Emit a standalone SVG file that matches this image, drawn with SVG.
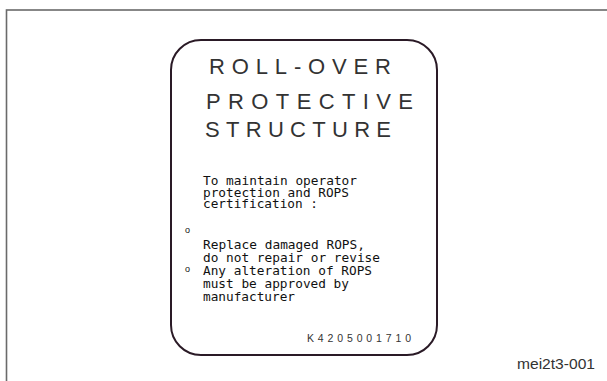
<svg xmlns="http://www.w3.org/2000/svg" width="607" height="381" viewBox="0 0 607 381">
<style>
.frame{fill:none;stroke:#6a6a6a;stroke-width:1.6}
.label{fill:#fff;stroke:#2a1a26;stroke-width:2}
.title{font-family:"Liberation Sans",Arial,sans-serif;font-size:22px;fill:#333}
.body{font-family:"DejaVu Sans Mono","Liberation Mono",monospace;font-size:12.8px;fill:#111}
.bullet{font-family:"Liberation Sans",Arial,sans-serif;font-size:9px;fill:#111}
.code{font-family:"Liberation Sans",Arial,sans-serif;font-size:10.5px;fill:#333}
.ref{font-family:"Liberation Sans",Arial,sans-serif;font-size:14.5px;fill:#333}
</style>
<rect width="607" height="381" fill="#fff"/>
<g id="frame">
<rect class="frame" x="6.5" y="10" width="610" height="380"/>
</g>
<g id="rops-label">
<rect class="label" x="171" y="40" width="266" height="315" rx="30" ry="30"/>
<text class="title" x="209" y="74" textLength="182" lengthAdjust="spacing">ROLL-OVER</text>
<text class="title" x="206" y="109" textLength="207" lengthAdjust="spacing">PROTECTIVE</text>
<text class="title" x="205" y="137" textLength="186" lengthAdjust="spacing">STRUCTURE</text>
<text class="body" x="203" y="185" textLength="154" lengthAdjust="spacingAndGlyphs">To maintain operator</text>
<text class="body" x="203" y="196.5" textLength="146" lengthAdjust="spacingAndGlyphs">protection and ROPS</text>
<text class="body" x="203" y="208" textLength="115" lengthAdjust="spacingAndGlyphs">certification :</text>
<text class="bullet" x="185" y="233">o</text>
<text class="body" x="203" y="249" textLength="162" lengthAdjust="spacingAndGlyphs">Replace damaged ROPS,</text>
<text class="body" x="203" y="262" textLength="177" lengthAdjust="spacingAndGlyphs">do not repair or revise</text>
<text class="bullet" x="185" y="272">o</text>
<text class="body" x="203" y="275" textLength="169" lengthAdjust="spacingAndGlyphs">Any alteration of ROPS</text>
<text class="body" x="203" y="288" textLength="146" lengthAdjust="spacingAndGlyphs">must be approved by</text>
<text class="body" x="203" y="301" textLength="92" lengthAdjust="spacingAndGlyphs">manufacturer</text>
<text class="code" x="307" y="342" textLength="104" lengthAdjust="spacing">K4205001710</text>
</g>
<g id="caption">
<text class="ref" x="517" y="369" textLength="78" lengthAdjust="spacingAndGlyphs">mei2t3-001</text>
</g>
<g id="connectors"/>
</svg>
